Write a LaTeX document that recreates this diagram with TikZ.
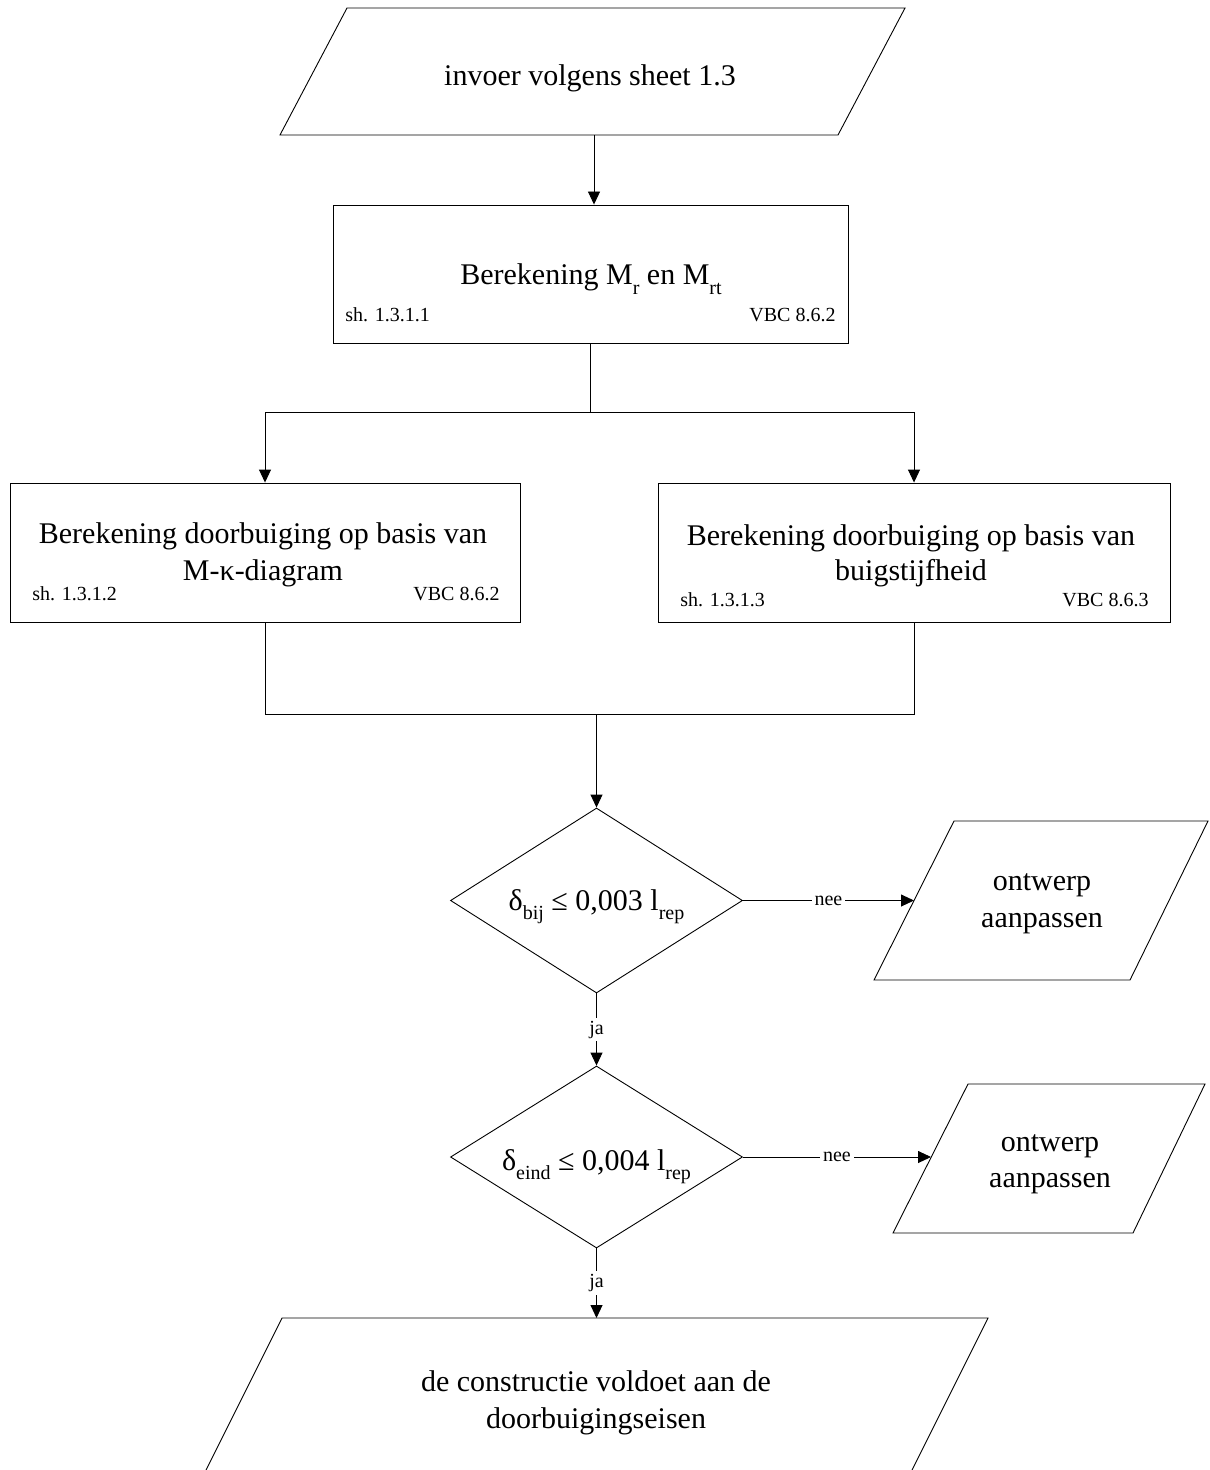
\documentclass[tikz,border=0pt]{standalone}
\usepackage{fontspec}
\setmainfont{Liberation Serif}
\usetikzlibrary{arrows.meta,shapes.geometric}
\newcommand\lo[1]{\raisebox{-0.33em}{\fontsize{10pt}{12pt}\selectfont #1}}
\begin{document}
\begin{tikzpicture}[x=0.5pt,y=-0.5pt,line width=0.45pt,
  tip/.style={-{Triangle[length=6.5pt,width=6pt]}},
  box/.style={draw,rectangle,inner sep=0pt},
  dia/.style={draw,diamond,inner sep=0pt},
  big/.style={font=\fontsize{15pt}{18pt}\selectfont,inner sep=0pt},
  small/.style={font=\fontsize{10pt}{12pt}\selectfont,inner sep=0pt},
  lbl/.style={font=\fontsize{10pt}{12pt}\selectfont,fill=white,inner sep=1.5pt}]
\useasboundingbox (0,0) rectangle (1209,1470);
\clip (0,0) rectangle (1209,1470);
% input parallelogram
\draw (347,8) -- (905,8) -- (838,135) -- (280,135) -- cycle;
\coordinate (inS) at (594,135);
\node[big,anchor=base] (tin) at (590,86) {invoer volgens sheet 1.3};
% box 1
\node[box,minimum width=257.5pt,minimum height=69pt] (b1) at (590.5,274) {};
\node[big,anchor=base] (t1) at (591,285) {Berekening M\lo{r} en M\lo{rt}};
\node[small,anchor=base west] (s1) at (345,322) {sh. 1.3.1.1};
\node[small,anchor=base east] (v1) at (836,322) {VBC 8.6.2};
% box 2
\node[box,minimum width=255pt,minimum height=69.5pt] (b2) at (265,552.5) {};
\node[big,anchor=base] (t2a) at (263,543) {Berekening doorbuiging op basis van};
\node[big,anchor=base] (t2b) at (263,580) {M-κ-diagram};
\node[small,anchor=base west] (s2) at (32,600) {sh. 1.3.1.2};
\node[small,anchor=base east] (v2) at (500,600) {VBC 8.6.2};
% box 3
\node[box,minimum width=256pt,minimum height=69.5pt] (b3) at (914,552.5) {};
\node[big,anchor=base] (t3a) at (911,545) {Berekening doorbuiging op basis van};
\node[big,anchor=base] (t3b) at (911,580) {buigstijfheid};
\node[small,anchor=base west] (s3) at (680,606) {sh. 1.3.1.3};
\node[small,anchor=base east] (v3) at (1149,606) {VBC 8.6.3};
% diamonds
\node[dia,minimum width=146pt,minimum height=92.5pt] (d1) at (596.5,900.5) {};
\node[big,anchor=base] (td1) at (596.5,910) {δ\lo{bij} ≤ 0,003 l\lo{rep}};
\node[dia,minimum width=146pt,minimum height=91pt] (d2) at (596.5,1157) {};
\node[big,anchor=base] (td2) at (596.5,1170) {δ\lo{eind} ≤ 0,004 l\lo{rep}};
% ontwerp 1
\draw (954,821) -- (1208,821) -- (1130,980) -- (874,980) -- cycle;
\coordinate (o1w) at (914,900.5);
\node[big,anchor=base] (to1a) at (1042,890) {ontwerp};
\node[big,anchor=base] (to1b) at (1042,927) {aanpassen};
% ontwerp 2
\draw (968,1084) -- (1205,1084) -- (1133,1233) -- (893,1233) -- cycle;
\coordinate (o2w) at (931,1157);
\node[big,anchor=base] (to2a) at (1050,1151) {ontwerp};
\node[big,anchor=base] (to2b) at (1050,1187) {aanpassen};
% end parallelogram
\draw (282,1318) -- (988,1318) -- (907,1480) -- (201,1480) -- cycle;
\coordinate (endN) at (596.5,1318);
\node[big,anchor=base] (te1) at (596,1391) {de constructie voldoet aan de};
\node[big,anchor=base] (te2) at (596,1428) {doorbuigingseisen};
% connectors
\draw[tip] (inS) -- (inS |- b1.north);
\coordinate (sp) at (590.5,412);
\draw (b1.south) -- (sp);
\draw[tip] (sp) -| (b2.north);
\draw[tip] (sp) -| (b3.north);
\coordinate (mg) at (596.5,714);
\draw (b2.south) |- (mg);
\draw (b3.south) |- (mg);
\draw[tip] (mg) -- (d1.north);
\draw[tip] (d1.east) -- (o1w) node[lbl,midway] {nee};
\draw[tip] (d1.south) -- (d2.north) node[lbl,midway] {ja};
\draw[tip] (d2.east) -- (o2w) node[lbl,midway] {nee};
\draw[tip] (d2.south) -- (endN) node[lbl,midway] {ja};
\end{tikzpicture}
\end{document}
